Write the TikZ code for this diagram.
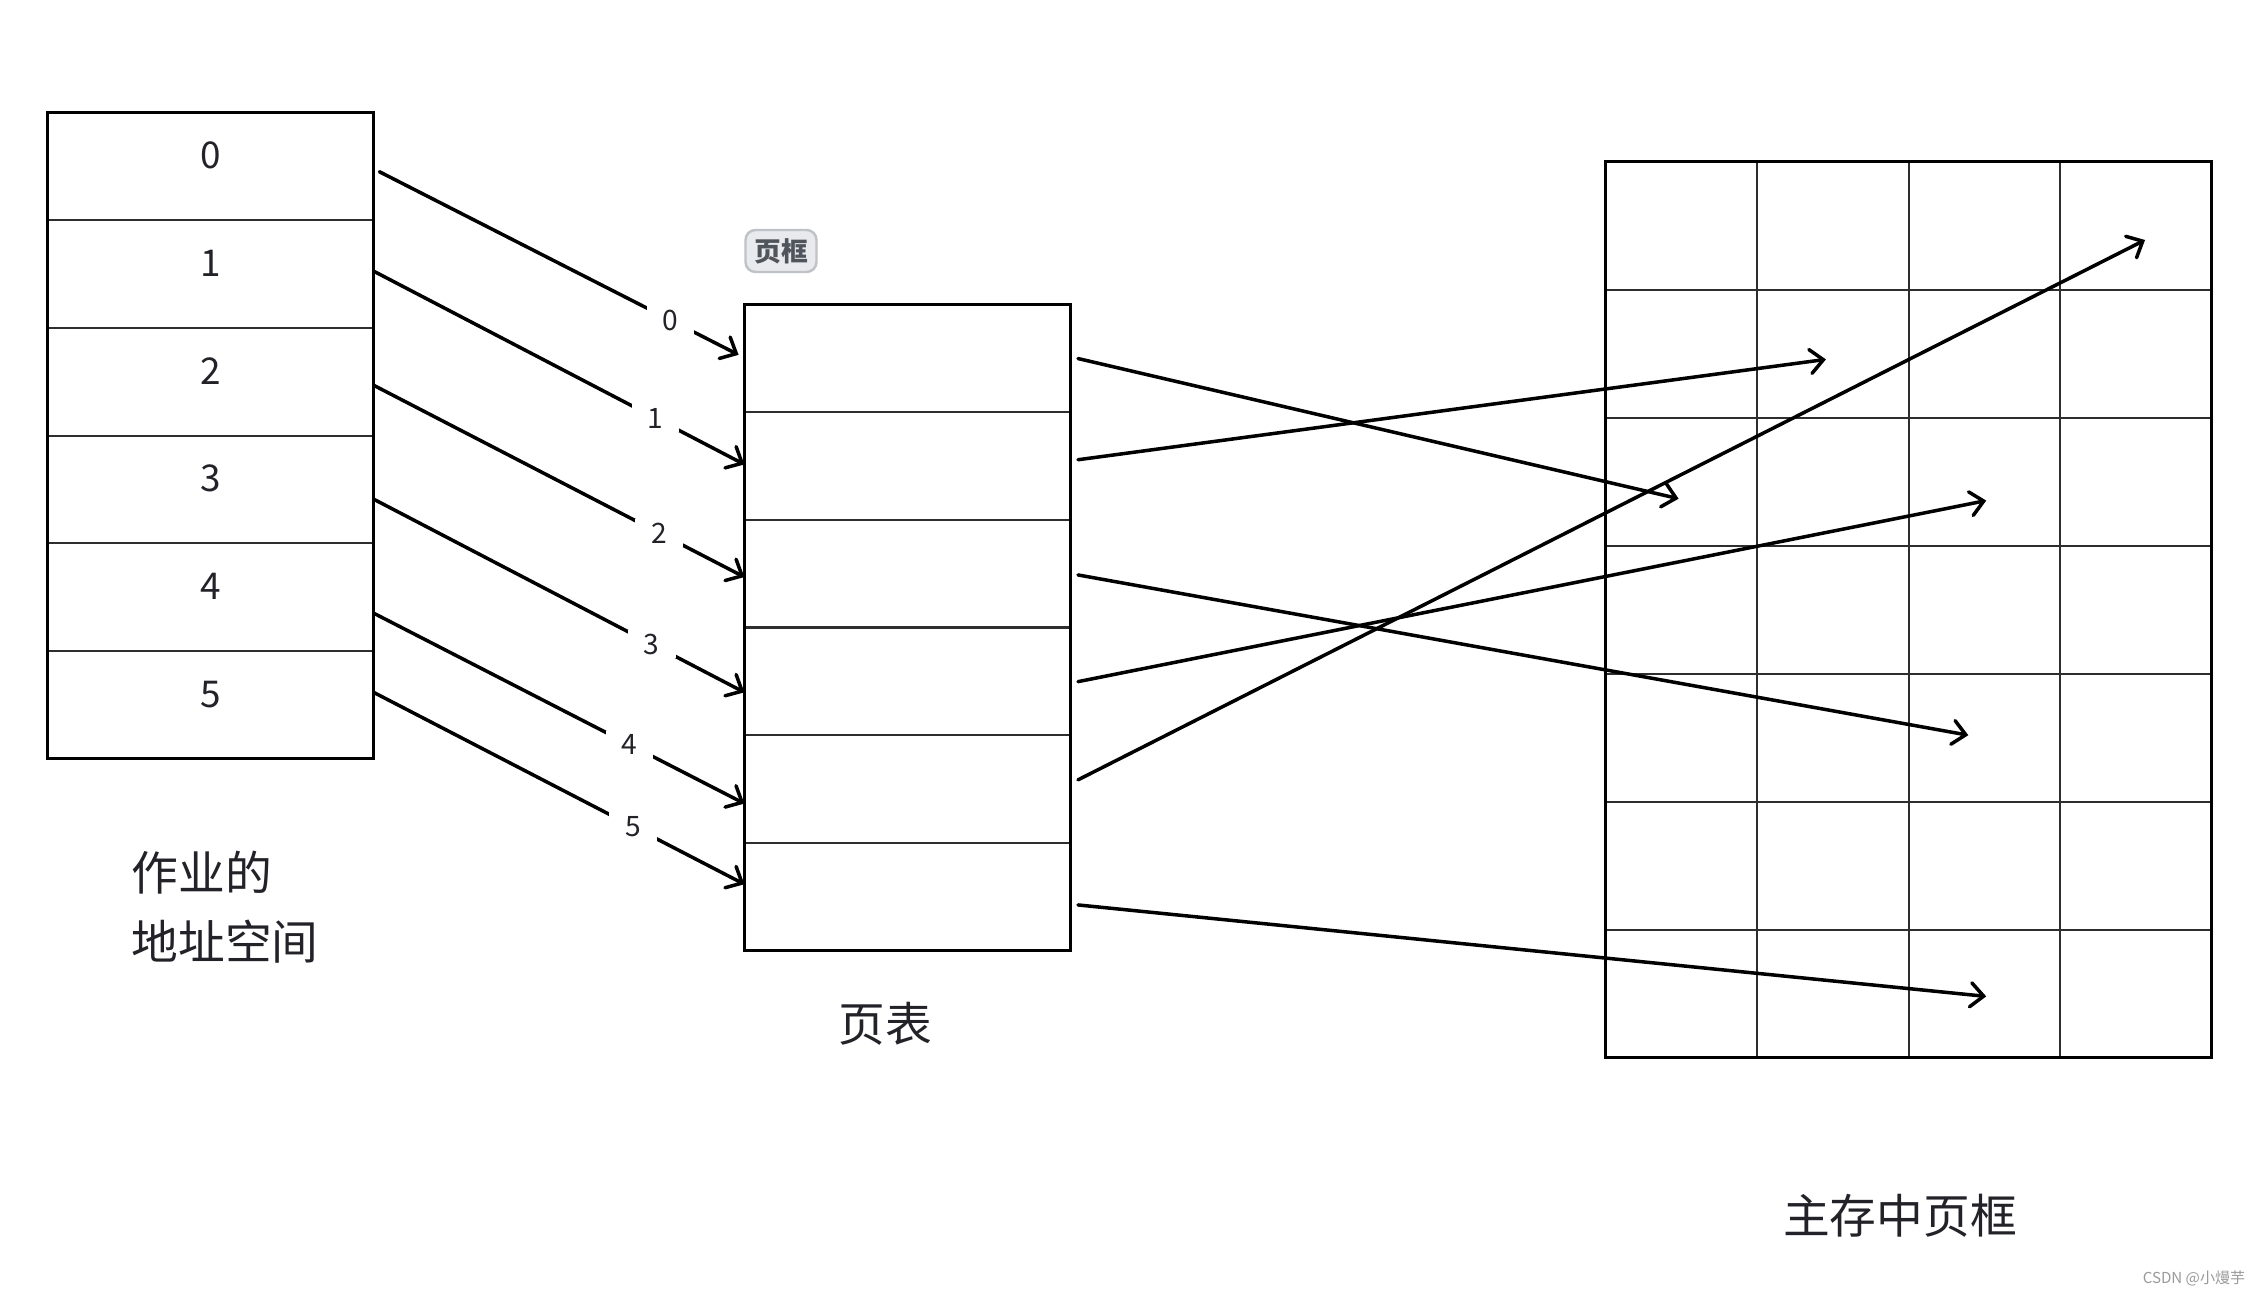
\documentclass[tikz,border=0pt]{standalone}
\usepackage{fontspec}
\setmainfont{Noto Sans CJK SC}
\usetikzlibrary{arrows.meta,calc}
\definecolor{ink}{HTML}{222228}
\definecolor{gridgray}{HTML}{2E2E2E}
\definecolor{badgefill}{HTML}{E8EAED}
\definecolor{badgeline}{HTML}{BFC3C8}
\definecolor{badgetext}{HTML}{50555C}
\definecolor{wmark}{HTML}{9A9A9A}
\begin{document}
\begin{tikzpicture}[x=0.1mm,y=-0.1mm,
  rowbox/.style={draw=gridgray, line width=0.6pt, minimum width=32.6mm, minimum height=10.77mm, inner sep=0pt, outer sep=0pt},
  cellbox/.style={draw=gridgray, line width=0.6pt, minimum width=15.15mm, minimum height=12.8mm, inner sep=0pt, outer sep=0pt},
  framebox/.style={draw=black, line width=0.75pt},
  digit/.style={font=\fontsize{10.5}{12}\selectfont, text=ink, inner sep=0pt},
  conn/.style={line width=1pt, line cap=round, -{Straight Barb[length=1.3mm,width=2.4mm,line cap=round]}},
  lbl/.style={fill=white, inner xsep=1.6mm, inner ysep=0.4mm, font=\fontsize{8}{9}\selectfont, text=ink},
  bigtext/.style={font=\fontsize{13.3}{19.6}\selectfont, text=ink, inner sep=0pt},
  badge/.style={draw=badgeline, fill=badgefill, line width=0.7pt, rounded corners=1mm, minimum width=7.1mm, minimum height=4.2mm, inner sep=0pt, font=\fontsize{7.6}{8}\selectfont\bfseries, text=badgetext},
  wm/.style={font=\fontsize{4.3}{5}\selectfont, text=wmark, inner sep=0pt}
]
\useasboundingbox[fill=white] (0,0) rectangle (2262,1296);

% job address space
\foreach \i in {0,...,5} {
  \node[rowbox] (l\i) at (210.6,{166.35+\i*107.7}) {};
  \node[digit] (ld\i) at (210.6,{155.6+\i*107.7}) {\i};
}
\draw[framebox] (l0.north west) rectangle (l5.south east);

% page table
\foreach \i in {0,...,5} {
  \node[rowbox] (p\i) at (907.4,{358.25+\i*107.7}) {};
}
\draw[framebox] (p0.north west) rectangle (p5.south east);

\node[badge] (badge) at (781,251) {页框};

% main memory grid
\foreach \r in {0,...,6} {
  \foreach \c in {0,...,3} {
    \node[cellbox] (g-\r-\c) at ({1681.35+\c*151.5},{225.6+\r*128}) {};
  }
}
\draw[framebox] (g-0-0.north west) rectangle (g-6-3.south east);

% texts
\node[bigtext, anchor=west, align=left] (jobtxt) at (131,907.5) {作业的\\地址空间};
\node[bigtext] (pttxt) at (885.7,1024.2) {页表};
\node[bigtext] (memtxt) at (1900,1216) {主存中页框};
\node[wm, anchor=east] (wmk) at (2246,1278) {CSDN @小熳芋};

% arrows: address space -> page table
\draw[conn] ($(l0.east)+(5.8,5.4)$) -- node[lbl,pos=0.81]{0} ($(p0.west)+(-5.8,-3.4)$);
\draw[conn] ($(l1.east)+(0,-2.9)$) -- node[lbl,pos=0.76]{1} ($(p1.west)+(0,-1.5)$);
\draw[conn] ($(l2.east)+(0,3.5)$) -- node[lbl,pos=0.77]{2} ($(p2.west)+(0,3.4)$);
\draw[conn] ($(l3.east)+(0,9.7)$) -- node[lbl,pos=0.75]{3} ($(p3.west)+(0,11)$);
\draw[conn] ($(l4.east)+(0,16)$) -- node[lbl,pos=0.69]{4} ($(p4.west)+(0,14.5)$);
\draw[conn] ($(l5.east)+(0,-12.5)$) -- node[lbl,pos=0.70]{5} ($(p5.west)+(0,-12.5)$);

% arrows: page table -> memory frames
\coordinate (tA) at (1678.6,498.7);
\coordinate (tB) at (1825.9,359.4);
\coordinate (tC) at (1968.3,735.2);
\coordinate (tD) at (1986.2,500.6);
\coordinate (tE) at (2145.0,240.0);
\coordinate (tF) at (1986.2,996.4);
\draw[conn] ($(p0.east)+(7.6,0.3)$) -- (tA);
\draw[conn] ($(p1.east)+(7.6,-6.2)$) -- (tB);
\draw[conn] ($(p2.east)+(7.6,1.3)$) -- (tC);
\draw[conn] ($(p3.east)+(7.6,0.3)$) -- (tD);
\draw[conn] ($(p4.east)+(7.6,-9.2)$) -- (tE);
\draw[conn] ($(p5.east)+(7.6,8.2)$) -- (tF);
\end{tikzpicture}
\end{document}
